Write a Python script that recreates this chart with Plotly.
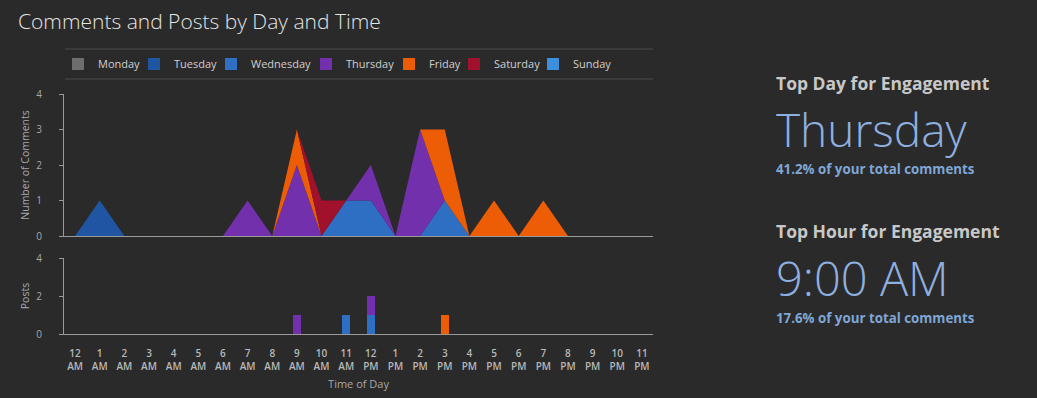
import plotly.graph_objects as go

W, H = 1037, 398

hours = ["12<br>AM", "1<br>AM", "2<br>AM", "3<br>AM", "4<br>AM", "5<br>AM", "6<br>AM",
         "7<br>AM", "8<br>AM", "9<br>AM", "10<br>AM", "11<br>AM", "12<br>PM", "1<br>PM",
         "2<br>PM", "3<br>PM", "4<br>PM", "5<br>PM", "6<br>PM", "7<br>PM", "8<br>PM",
         "9<br>PM", "10<br>PM", "11<br>PM"]

days = ["Monday", "Tuesday", "Wednesday", "Thursday", "Friday", "Saturday", "Sunday"]
day_colors = ["#6e6e6e", "#1f55a3", "#2f6fc3", "#7330ac", "#ec5d06", "#a1112c", "#3b8fdd"]

# comments per hour (stacked)
comments_monday    = [0]*24
comments_tuesday   = [0,1,0,0,0,0,0,0,0,0,0,0,0,0,0,0,0,0,0,0,0,0,0,0]
comments_wednesday = [0,0,0,0,0,0,0,0,0,0,0,1,1,0,0,1,0,0,0,0,0,0,0,0]
comments_thursday  = [0,0,0,0,0,0,0,1,0,2,0,0,1,0,3,0,0,0,0,0,0,0,0,0]
comments_friday    = [0,0,0,0,0,0,0,0,0,1,0,0,0,0,0,2,0,1,0,1,0,0,0,0]
comments_saturday  = [0,0,0,0,0,0,0,0,0,0,1,0,0,0,0,0,0,0,0,0,0,0,0,0]
comments_sunday    = [0]*24
comments = [comments_monday, comments_tuesday, comments_wednesday, comments_thursday,
            comments_friday, comments_saturday, comments_sunday]

# posts per hour (stacked)
posts_monday    = [0]*24
posts_tuesday   = [0]*24
posts_wednesday = [0,0,0,0,0,0,0,0,0,0,0,1,1,0,0,0,0,0,0,0,0,0,0,0]
posts_thursday  = [0,0,0,0,0,0,0,0,0,1,0,0,1,0,0,0,0,0,0,0,0,0,0,0]
posts_friday    = [0,0,0,0,0,0,0,0,0,0,0,0,0,0,0,1,0,0,0,0,0,0,0,0]
posts_saturday  = [0]*24
posts_sunday    = [0]*24
posts = [posts_monday, posts_tuesday, posts_wednesday, posts_thursday,
         posts_friday, posts_saturday, posts_sunday]

title_text = "Comments and Posts by Day and Time"
top_day_label = "Top Day for Engagement"
top_day = "Thursday"
top_day_share = "41.2% of your total comments"
top_hour_label = "Top Hour for Engagement"
top_hour = "9:00 AM"
top_hour_share = "17.6% of your total comments"

BG = "#2a2a2a"
AXIS = "#9a9a9a"
TICKTXT = "#a8a8a8"
FONT = "Open Sans"

# left edge (px) of each legend entry's text
legend_text_x = [97, 173, 250, 345, 428, 493, 572]


def px_x(x):
    return x / W


def px_y(y):
    return 1 - y / H


fig = go.Figure()

for d, c, vals in zip(days, day_colors, comments):
    fig.add_trace(go.Scatter(
        x=hours, y=vals, name=d, stackgroup="c", mode="lines",
        line=dict(width=0, color=c), fillcolor=c,
        showlegend=False, legendgroup=d, hoverinfo="x+y+name",
        xaxis="x", yaxis="y"))

legend_layouts = {}
for i, (d, c, vals) in enumerate(zip(days, day_colors, posts)):
    lname = "legend" if i == 0 else f"legend{i + 1}"
    fig.add_trace(go.Bar(
        x=hours, y=vals, name=d, marker=dict(color=c, line=dict(width=0)),
        width=0.32, showlegend=True, legendgroup=d, legend=lname,
        xaxis="x2", yaxis="y2"))
    legend_layouts[lname] = dict(
        orientation="h", x=px_x(legend_text_x[i] - 39), xanchor="left",
        y=px_y(64), yanchor="middle", bgcolor="rgba(0,0,0,0)",
        font=dict(family=FONT, size=11, color="#cfcfcf"), itemwidth=30)

xdom = [px_x(64), px_x(653)]
xrange_ = [-0.45, 23.45]

fig.update_layout(
    template="none",
    width=W, height=H,
    paper_bgcolor=BG, plot_bgcolor=BG,
    margin=dict(l=0, r=0, t=0, b=0, pad=0, autoexpand=False),
    barmode="stack",
    font=dict(family=FONT, color=TICKTXT, size=10),
    title=dict(text=title_text, x=px_x(18), xanchor="left", y=px_y(22), yanchor="middle",
               xref="paper", yref="container",
               font=dict(family=FONT, size=21, color="#e4e4e4", weight=300)),
    xaxis=dict(domain=xdom, range=xrange_, type="category", categoryorder="array",
               categoryarray=hours, showticklabels=False, showgrid=False, zeroline=False,
               showline=True, linecolor=AXIS, linewidth=1, ticks="", anchor="y",
               automargin=False),
    yaxis=dict(domain=[px_y(236), px_y(94)], range=[0, 4], tickvals=[0, 1, 2, 3, 4],
               showgrid=False, zeroline=False, showline=True, linecolor=AXIS, linewidth=1,
               ticks="outside", ticklen=4, tickcolor=AXIS, tickfont=dict(size=10, color=TICKTXT),
               ticklabelstandoff=15, automargin=False,
               title=dict(text="Number of Comments", font=dict(size=10.5, color=TICKTXT), standoff=4),
               anchor="x"),
    xaxis2=dict(domain=xdom, range=xrange_, type="category", categoryorder="array",
                categoryarray=hours, showgrid=False, zeroline=False,
                showline=True, linecolor=AXIS, linewidth=1, ticks="",
                tickfont=dict(size=10, color="#b8b8b8", weight=600),
                ticklabelstandoff=10, automargin=False,
                title=dict(text="Time of Day", font=dict(size=11, color=TICKTXT), standoff=8),
                anchor="y2"),
    yaxis2=dict(domain=[px_y(334), px_y(258)], range=[0, 4], tickvals=[0, 2, 4],
                showgrid=False, zeroline=False, showline=True, linecolor=AXIS, linewidth=1,
                ticks="outside", ticklen=4, tickcolor=AXIS, tickfont=dict(size=10, color=TICKTXT),
                ticklabelstandoff=15, automargin=False,
                title=dict(text="Posts", font=dict(size=10.5, color=TICKTXT), standoff=4),
                anchor="x2"),
    **legend_layouts,
)

# legend separator lines
for yy in (49, 79):
    fig.add_shape(type="line", xref="paper", yref="paper",
                  x0=px_x(65), x1=px_x(653), y0=px_y(yy), y1=px_y(yy),
                  line=dict(color="#4a4a4a", width=1))

ann = [
    (top_day_label, 83, 17.5, "#c8c8c8", 700),
    (top_day, 129, 46, "#8db0e0", 300),
    (top_day_share, 169, 13.3, "#7ea6d6", 700),
    (top_hour_label, 231, 17.5, "#c8c8c8", 700),
    (top_hour, 278, 47, "#8db0e0", 300),
    (top_hour_share, 318, 13.3, "#7ea6d6", 700),
]
for text, yy, size, color, weight in ann:
    fig.add_annotation(text=text, xref="paper", yref="paper", x=px_x(774), y=px_y(yy),
                       xanchor="left", yanchor="middle", showarrow=False,
                       font=dict(family=FONT, size=size, color=color, weight=weight))

fig.write_html("out.html", config={"displayModeBar": False},
               post_script="document.body.style.margin='0';"
                           "document.body.style.background='#2a2a2a';")
